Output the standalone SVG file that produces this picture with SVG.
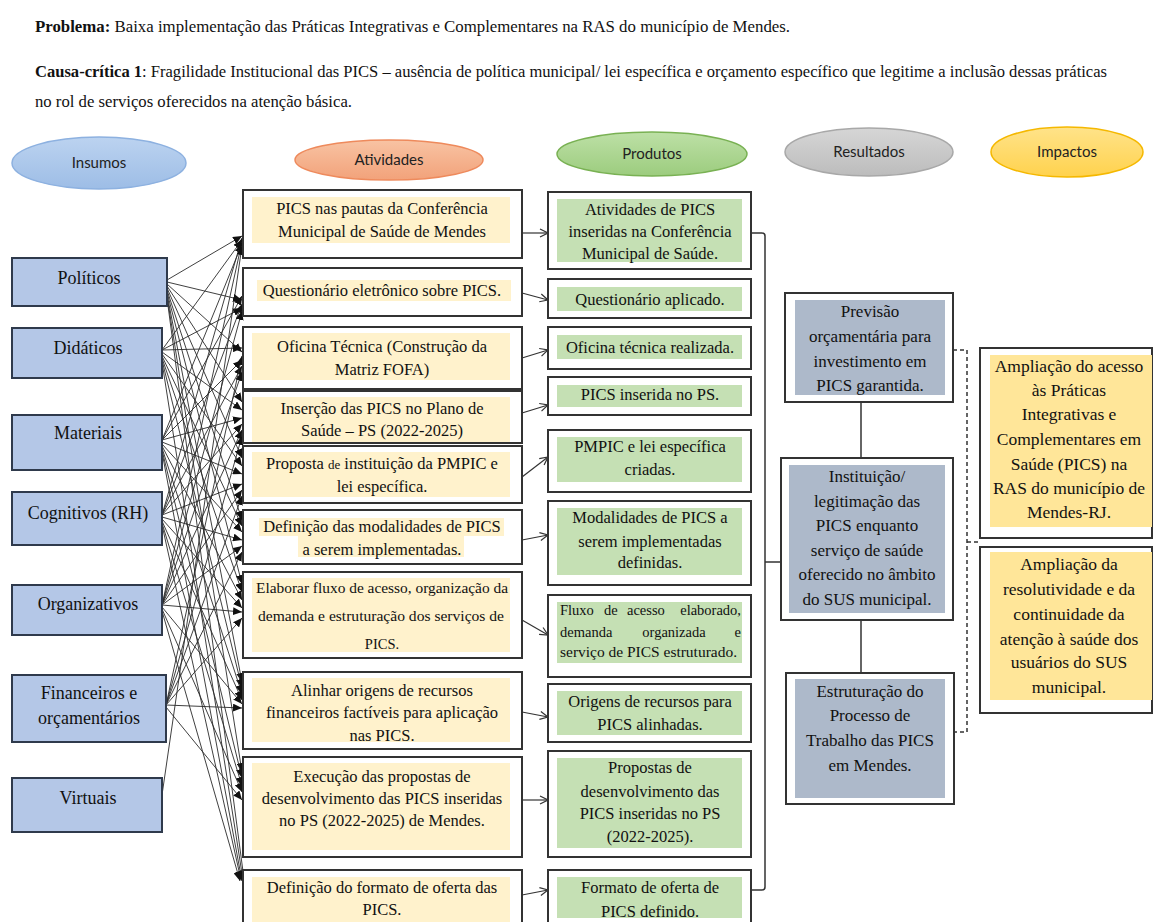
<svg xmlns="http://www.w3.org/2000/svg" width="1154" height="922" viewBox="0 0 1154 922">
<defs>
<style>
.h{font-family:"Liberation Serif","Times New Roman",serif;font-size:16px;fill:#111}
.t{font-family:"Liberation Serif","Times New Roman",serif;font-size:16.5px;fill:#111;text-anchor:middle}
.ts{font-family:"Liberation Serif","Times New Roman",serif;font-size:14.5px;fill:#111;text-anchor:middle}
.tr{font-family:"Liberation Serif","Times New Roman",serif;font-size:17px;fill:#111;text-anchor:middle}
.ti{font-family:"Liberation Serif","Times New Roman",serif;font-size:17.5px;fill:#111;text-anchor:middle}
.tin{font-family:"Liberation Serif","Times New Roman",serif;font-size:18px;fill:#111;text-anchor:middle}
.lbl{font-family:Lato,"Liberation Sans",sans-serif;font-size:15px;fill:#222;text-anchor:middle}
.box{fill:#fff;stroke:#333;stroke-width:2}
.inbox{fill:#b4c7e7;stroke:#2f3a4c;stroke-width:2}
.ha{fill:#fff2cc}.hp{fill:#c5e0b4}.hr{fill:#adb9ca}.hi{fill:#ffe699}
.cn{stroke:#2a2a2a;stroke-width:0.9;fill:none;marker-end:url(#ah)}
.ap{stroke:#333;stroke-width:1.2;fill:none;marker-end:url(#oa)}
.ln{stroke:#333;stroke-width:1.5;fill:none}
.dl{stroke:#333;stroke-width:1.5;fill:none;stroke-dasharray:4 3}
</style>
<marker id="ah" markerUnits="userSpaceOnUse" markerWidth="9" markerHeight="8" refX="9" refY="4" orient="auto"><path d="M0,0 L9,4 L0,8 z" fill="#111"/></marker>
<marker id="oa" markerUnits="userSpaceOnUse" markerWidth="10" markerHeight="10" refX="9" refY="5" orient="auto"><path d="M1,1 L9,5 L1,9" fill="none" stroke="#333" stroke-width="1.2"/></marker>
<linearGradient id="gB" x1="0" y1="0" x2="0" y2="1"><stop offset="0" stop-color="#bcd3f0"/><stop offset="1" stop-color="#9dbde6"/></linearGradient>
<linearGradient id="gO" x1="0" y1="0" x2="0" y2="1"><stop offset="0" stop-color="#f8c3a3"/><stop offset="1" stop-color="#f2a27a"/></linearGradient>
<linearGradient id="gG" x1="0" y1="0" x2="0" y2="1"><stop offset="0" stop-color="#bde0a6"/><stop offset="1" stop-color="#9ccc7e"/></linearGradient>
<linearGradient id="gS" x1="0" y1="0" x2="0" y2="1"><stop offset="0" stop-color="#d6d6d6"/><stop offset="1" stop-color="#bcbcbc"/></linearGradient>
<linearGradient id="gY" x1="0" y1="0" x2="0" y2="1"><stop offset="0" stop-color="#ffe38a"/><stop offset="1" stop-color="#ffd24d"/></linearGradient>
</defs>
<rect width="1154" height="922" fill="#fff"/>

<g id="header">
<text class="h" x="35" y="32" textLength="755" lengthAdjust="spacingAndGlyphs"><tspan font-weight="bold">Problema:</tspan> Baixa implementação das Práticas Integrativas e Complementares na RAS do município de Mendes.</text>
<text class="h" x="35" y="77" textLength="1072" lengthAdjust="spacingAndGlyphs"><tspan font-weight="bold">Causa-crítica 1</tspan>: Fragilidade Institucional das PICS – ausência de política municipal/ lei específica e orçamento específico que legitime a inclusão dessas práticas</text>
<text class="h" x="35" y="107" textLength="317" lengthAdjust="spacingAndGlyphs">no rol de serviços oferecidos na atenção básica.</text>
</g>

<g id="col-insumos"><ellipse cx="99" cy="163" rx="87" ry="26" fill="url(#gB)" stroke="#8db1e0" stroke-width="1.5"/><text class="lbl" x="99" y="168">Insumos</text></g>
<g id="col-atividades"><ellipse cx="389" cy="160" rx="94" ry="20" fill="url(#gO)" stroke="#ee8a5c" stroke-width="1.5"/><text class="lbl" x="389" y="165">Atividades</text></g>
<g id="col-produtos"><ellipse cx="652" cy="154" rx="95" ry="22" fill="url(#gG)" stroke="#79b153" stroke-width="1.5"/><text class="lbl" x="652" y="159">Produtos</text></g>
<g id="col-resultados"><ellipse cx="869" cy="152" rx="84" ry="24" fill="url(#gS)" stroke="#a8a8a8" stroke-width="1.5"/><text class="lbl" x="869" y="157">Resultados</text></g>
<g id="col-impactos"><ellipse cx="1067" cy="152" rx="76" ry="25" fill="url(#gY)" stroke="#f5b800" stroke-width="1.5"/><text class="lbl" x="1067" y="157">Impactos</text></g>

<g id="connectors">
<line class="cn" x1="167" y1="280" x2="242" y2="236"/>
<line class="cn" x1="162" y1="350" x2="242" y2="240"/>
<line class="cn" x1="162" y1="440" x2="242" y2="244"/>
<line class="cn" x1="162" y1="515" x2="242" y2="238"/>
<line class="cn" x1="162" y1="605" x2="242" y2="242"/>
<line class="cn" x1="162" y1="795" x2="242" y2="246"/>
<line class="cn" x1="167" y1="282" x2="242" y2="300"/>
<line class="cn" x1="162" y1="350" x2="242" y2="308"/>
<line class="cn" x1="162" y1="440" x2="242" y2="296"/>
<line class="cn" x1="162" y1="515" x2="242" y2="304"/>
<line class="cn" x1="162" y1="605" x2="242" y2="311"/>
<line class="cn" x1="167" y1="284" x2="242" y2="352"/>
<line class="cn" x1="162" y1="350" x2="242" y2="348"/>
<line class="cn" x1="162" y1="440" x2="242" y2="360"/>
<line class="cn" x1="162" y1="515" x2="242" y2="366"/>
<line class="cn" x1="162" y1="605" x2="242" y2="372"/>
<line class="cn" x1="166" y1="705" x2="242" y2="356"/>
<line class="cn" x1="167" y1="286" x2="242" y2="402"/>
<line class="cn" x1="162" y1="352" x2="242" y2="410"/>
<line class="cn" x1="162" y1="440" x2="242" y2="418"/>
<line class="cn" x1="162" y1="515" x2="242" y2="424"/>
<line class="cn" x1="162" y1="605" x2="242" y2="430"/>
<line class="cn" x1="166" y1="705" x2="242" y2="436"/>
<line class="cn" x1="167" y1="288" x2="242" y2="458"/>
<line class="cn" x1="162" y1="354" x2="242" y2="466"/>
<line class="cn" x1="162" y1="442" x2="242" y2="474"/>
<line class="cn" x1="162" y1="515" x2="242" y2="484"/>
<line class="cn" x1="162" y1="605" x2="242" y2="490"/>
<line class="cn" x1="166" y1="705" x2="242" y2="496"/>
<line class="cn" x1="167" y1="290" x2="242" y2="520"/>
<line class="cn" x1="162" y1="356" x2="242" y2="526"/>
<line class="cn" x1="162" y1="444" x2="242" y2="532"/>
<line class="cn" x1="162" y1="517" x2="242" y2="540"/>
<line class="cn" x1="162" y1="605" x2="242" y2="546"/>
<line class="cn" x1="166" y1="705" x2="242" y2="552"/>
<line class="cn" x1="167" y1="292" x2="242" y2="584"/>
<line class="cn" x1="162" y1="358" x2="242" y2="592"/>
<line class="cn" x1="162" y1="446" x2="242" y2="600"/>
<line class="cn" x1="162" y1="519" x2="242" y2="608"/>
<line class="cn" x1="162" y1="605" x2="242" y2="612"/>
<line class="cn" x1="166" y1="705" x2="242" y2="618"/>
<line class="cn" x1="167" y1="294" x2="242" y2="682"/>
<line class="cn" x1="162" y1="360" x2="242" y2="688"/>
<line class="cn" x1="162" y1="448" x2="242" y2="694"/>
<line class="cn" x1="162" y1="521" x2="242" y2="700"/>
<line class="cn" x1="162" y1="607" x2="242" y2="704"/>
<line class="cn" x1="166" y1="705" x2="242" y2="708"/>
<line class="cn" x1="167" y1="296" x2="242" y2="772"/>
<line class="cn" x1="162" y1="450" x2="242" y2="778"/>
<line class="cn" x1="162" y1="523" x2="242" y2="786"/>
<line class="cn" x1="162" y1="609" x2="242" y2="792"/>
<line class="cn" x1="166" y1="707" x2="242" y2="800"/>
<line class="cn" x1="167" y1="298" x2="244" y2="879"/>
<line class="cn" x1="162" y1="362" x2="243" y2="880"/>
<line class="cn" x1="162" y1="452" x2="242" y2="881"/>
<line class="cn" x1="162" y1="525" x2="241" y2="880"/>
<line class="cn" x1="162" y1="611" x2="240" y2="881"/>
<line class="ap" x1="522" y1="233" x2="548" y2="233"/>
<line class="ap" x1="522" y1="293" x2="548" y2="300"/>
<line class="ap" x1="522" y1="358" x2="548" y2="350"/>
<line class="ap" x1="522" y1="413" x2="548" y2="405"/>
<line class="ap" x1="522" y1="477" x2="548" y2="457"/>
<line class="ap" x1="522" y1="540" x2="548" y2="535"/>
<line class="ap" x1="522" y1="620" x2="548" y2="635"/>
<line class="ap" x1="522" y1="712" x2="548" y2="717"/>
<line class="ap" x1="522" y1="800" x2="548" y2="800"/>
<line class="ap" x1="522" y1="895" x2="548" y2="890"/>
<path class="ln" d="M751,233 H762 Q765,233 765,236 V887 Q765,890 762,890 H751"/>
<line class="ln" x1="765" y1="562" x2="781" y2="562"/>
<line class="ln" x1="861" y1="402" x2="861" y2="458"/>
<line class="ln" x1="861" y1="620" x2="861" y2="673"/>
<path class="dl" d="M953,350 H967 V732 H953"/>
<line class="dl" x1="967" y1="542" x2="980" y2="542"/>
</g>

<g id="in-politicos"><rect class="inbox" x="12" y="258" width="155" height="48"/><text class="tin" x="89" y="284">Políticos</text></g>
<g id="in-didaticos"><rect class="inbox" x="12" y="328" width="150" height="50"/><text class="tin" x="88" y="354">Didáticos</text></g>
<g id="in-materiais"><rect class="inbox" x="12" y="415" width="150" height="55"/><text class="tin" x="88" y="439">Materiais</text></g>
<g id="in-cognitivos"><rect class="inbox" x="12" y="492" width="150" height="53"/><text class="tin" x="88" y="519">Cognitivos (RH)</text></g>
<g id="in-organizativos"><rect class="inbox" x="12" y="585" width="150" height="50"/><text class="tin" x="88" y="610">Organizativos</text></g>
<g id="in-financeiros"><rect class="inbox" x="12" y="675" width="154" height="67"/><text class="tin" x="89" y="699">Financeiros e</text><text class="tin" x="89" y="724">orçamentários</text></g>
<g id="in-virtuais"><rect class="inbox" x="12" y="778" width="150" height="54"/><text class="tin" x="88" y="804">Virtuais</text></g>

<g id="at-1"><rect class="box" x="243" y="190" width="279" height="68"/><rect class="ha" x="252" y="197" width="258" height="46"/><text class="t" x="382" y="214">PICS nas pautas da Conferência</text><text class="t" x="382" y="237">Municipal de Saúde de Mendes</text></g>
<g id="at-2"><rect class="box" x="243" y="268" width="279" height="48"/><rect class="ha" x="257" y="280" width="254" height="21"/><text class="t" x="382" y="296">Questionário eletrônico sobre PICS.</text></g>
<g id="at-3"><rect class="box" x="243" y="327" width="279" height="62"/><rect class="ha" x="252" y="333" width="258" height="47"/><text class="t" x="382" y="352">Oficina Técnica (Construção da</text><text class="t" x="382" y="375">Matriz FOFA)</text></g>
<g id="at-4"><rect class="box" x="243" y="391" width="279" height="52"/><rect class="ha" x="252" y="397" width="258" height="45"/><text class="t" x="382" y="414">Inserção das PICS no Plano de</text><text class="t" x="382" y="436">Saúde – PS (2022-2025)</text></g>
<g id="at-5"><rect class="box" x="243" y="446" width="279" height="57"/><rect class="ha" x="252" y="452" width="258" height="45"/><text class="t" x="382" y="469">Proposta <tspan font-size="13px">de</tspan> instituição da PMPIC e</text><text class="t" x="382" y="492">lei específica.</text></g>
<g id="at-6"><rect class="box" x="243" y="510" width="279" height="54"/><rect class="ha" x="259" y="518" width="245" height="18"/><rect class="ha" x="298" y="536" width="166" height="21"/><text class="t" x="382" y="532">Definição das modalidades de PICS</text><text class="t" x="382" y="555">a serem implementadas.</text></g>
<g id="at-7"><rect class="box" x="243" y="572" width="279" height="86"/><rect class="ha" x="252" y="578" width="258" height="74"/><text class="ts" x="382" y="593" textLength="252" lengthAdjust="spacingAndGlyphs">Elaborar fluxo de acesso, organização da</text><text class="ts" x="381" y="621" textLength="246" lengthAdjust="spacingAndGlyphs">demanda e estruturação dos serviços de</text><text class="ts" x="382" y="649">PICS.</text></g>
<g id="at-8"><rect class="box" x="243" y="672" width="279" height="77"/><rect class="ha" x="252" y="678" width="258" height="64"/><text class="t" x="382" y="696">Alinhar origens de recursos</text><text class="t" x="382" y="718">financeiros factíveis para aplicação</text><text class="t" x="382" y="741">nas PICS.</text></g>
<g id="at-9"><rect class="box" x="243" y="757" width="279" height="100"/><rect class="ha" x="252" y="763" width="258" height="87"/><text class="t" x="382" y="782">Execução das propostas de</text><text class="t" x="382" y="804">desenvolvimento das PICS inseridas</text><text class="t" x="382" y="826">no PS (2022-2025) de Mendes.</text></g>
<g id="at-10"><rect class="box" x="243" y="870" width="279" height="62"/><rect class="ha" x="252" y="877" width="258" height="50"/><text class="t" x="382" y="893">Definição do formato de oferta das</text><text class="t" x="382" y="915">PICS.</text></g>

<g id="pr-1"><rect class="box" x="548" y="192" width="203" height="77"/><rect class="hp" x="557" y="199" width="185" height="63"/><text class="t" x="650" y="215">Atividades de PICS</text><text class="t" x="650" y="237">inseridas na Conferência</text><text class="t" x="650" y="259">Municipal de Saúde.</text></g>
<g id="pr-2"><rect class="box" x="548" y="279" width="203" height="39"/><rect class="hp" x="557" y="287" width="185" height="24"/><text class="t" x="650" y="305">Questionário aplicado.</text></g>
<g id="pr-3"><rect class="box" x="548" y="327" width="203" height="42"/><rect class="hp" x="557" y="335" width="185" height="24"/><text class="t" x="650" y="353">Oficina técnica realizada.</text></g>
<g id="pr-4"><rect class="box" x="548" y="377" width="203" height="38"/><rect class="hp" x="557" y="385" width="185" height="22"/><text class="t" x="650" y="400">PICS inserida no PS.</text></g>
<g id="pr-5"><rect class="box" x="548" y="430" width="203" height="62"/><rect class="hp" x="557" y="437" width="185" height="45"/><text class="t" x="650" y="452">PMPIC e lei específica</text><text class="t" x="650" y="475">criadas.</text></g>
<g id="pr-6"><rect class="box" x="548" y="501" width="203" height="84"/><rect class="hp" x="557" y="508" width="185" height="67"/><text class="t" x="650" y="523">Modalidades de PICS a</text><text class="t" x="650" y="547">serem implementadas</text><text class="t" x="650" y="568">definidas.</text></g>
<g id="pr-7"><rect class="box" x="548" y="595" width="203" height="82"/><rect class="hp" x="557" y="602" width="185" height="61"/>
<text class="ts" style="text-anchor:start" x="560" y="615">Fluxo</text><text class="ts" style="text-anchor:start" x="604" y="615">de</text><text class="ts" style="text-anchor:start" x="627" y="615">acesso</text><text class="ts" style="text-anchor:end" x="741" y="615">elaborado,</text>
<text class="ts" style="text-anchor:start" x="560" y="637">demanda</text><text class="ts" x="674" y="637">organizada</text><text class="ts" style="text-anchor:end" x="741" y="637">e</text>
<text class="ts" style="text-anchor:start" x="560" y="657" textLength="177" lengthAdjust="spacingAndGlyphs">serviço de PICS estruturado.</text></g>
<g id="pr-8"><rect class="box" x="548" y="684" width="203" height="58"/><rect class="hp" x="557" y="691" width="185" height="44"/><text class="t" x="650" y="707">Origens de recursos para</text><text class="t" x="650" y="730">PICS alinhadas.</text></g>
<g id="pr-9"><rect class="box" x="548" y="751" width="203" height="106"/><rect class="hp" x="557" y="758" width="185" height="90"/><text class="t" x="650" y="773">Propostas de</text><text class="t" x="650" y="797">desenvolvimento das</text><text class="t" x="650" y="819">PICS inseridas no PS</text><text class="t" x="650" y="842">(2022-2025).</text></g>
<g id="pr-10"><rect class="box" x="548" y="870" width="203" height="62"/><rect class="hp" x="557" y="877" width="185" height="41"/><text class="t" x="650" y="893">Formato de oferta de</text><text class="t" x="650" y="917">PICS definido.</text></g>

<g id="re-1"><rect class="box" x="785" y="293" width="168" height="109"/><rect class="hr" x="795" y="300" width="150" height="95"/><text class="tr" x="870" y="317">Previsão</text><text class="tr" x="870" y="342">orçamentária para</text><text class="tr" x="870" y="367">investimento em</text><text class="tr" x="870" y="391">PICS garantida.</text></g>
<g id="re-2"><rect class="box" x="781" y="458" width="172" height="162"/><rect class="hr" x="789" y="465" width="156" height="148"/><text class="tr" x="867" y="482">Instituição/</text><text class="tr" x="867" y="507">legitimação das</text><text class="tr" x="867" y="531">PICS enquanto</text><text class="tr" x="867" y="556">serviço de saúde</text><text class="tr" x="867" y="580">oferecido no âmbito</text><text class="tr" x="867" y="605">do SUS municipal.</text></g>
<g id="re-3"><rect class="box" x="786" y="673" width="168" height="131"/><rect class="hr" x="795" y="679" width="150" height="119"/><text class="tr" x="870" y="697">Estruturação do</text><text class="tr" x="870" y="721">Processo de</text><text class="tr" x="870" y="746">Trabalho das PICS</text><text class="tr" x="870" y="771">em Mendes.</text></g>

<g id="im-1"><rect class="box" x="980" y="348" width="172" height="190"/><rect class="hi" x="990" y="355" width="162" height="172"/><text class="ti" x="1069" y="372">Ampliação do acesso</text><text class="ti" x="1069" y="396">às Práticas</text><text class="ti" x="1069" y="420">Integrativas e</text><text class="ti" x="1069" y="445">Complementares em</text><text class="ti" x="1069" y="470">Saúde (PICS) na</text><text class="ti" x="1069" y="494">RAS do município de</text><text class="ti" x="1069" y="518">Mendes-RJ.</text></g>
<g id="im-2"><rect class="box" x="980" y="547" width="172" height="166"/><rect class="hi" x="990" y="552" width="162" height="148"/><text class="ti" x="1069" y="570">Ampliação da</text><text class="ti" x="1069" y="595">resolutividade e da</text><text class="ti" x="1069" y="620">continuidade da</text><text class="ti" x="1069" y="645">atenção à saúde dos</text><text class="ti" x="1069" y="668">usuários do SUS</text><text class="ti" x="1069" y="693">municipal.</text></g>
</svg>
